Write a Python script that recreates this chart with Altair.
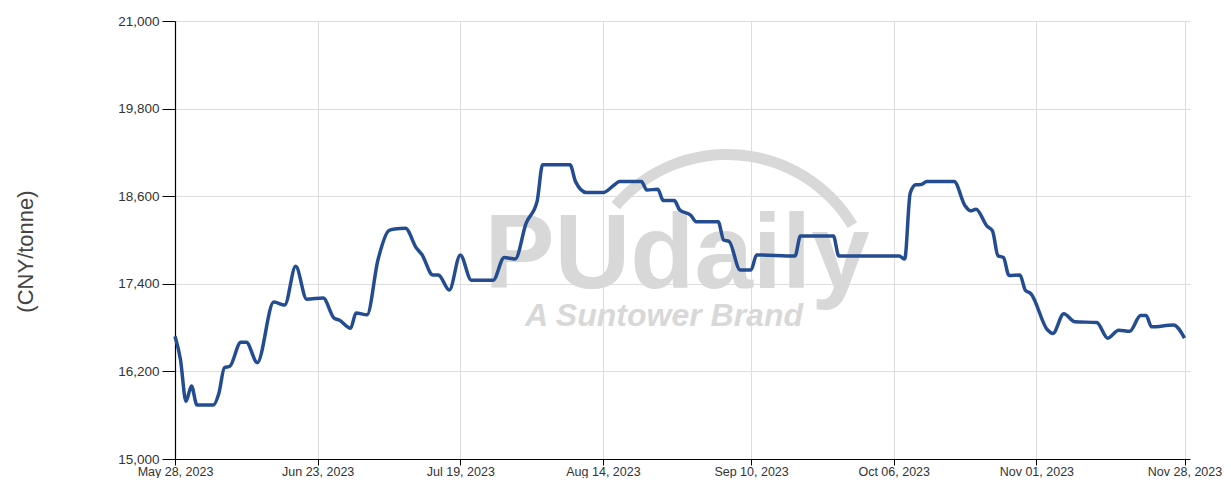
import altair as alt
import pandas as pd

dates = [
    "2023-05-28", "2023-05-29", "2023-05-30", "2023-05-31", "2023-06-01", "2023-06-04",
    "2023-06-05", "2023-06-06", "2023-06-07", "2023-06-09", "2023-06-10", "2023-06-12",
    "2023-06-15", "2023-06-17", "2023-06-19", "2023-06-21", "2023-06-24", "2023-06-26",
    "2023-06-27", "2023-06-29", "2023-06-30", "2023-07-02", "2023-07-04", "2023-07-06",
    "2023-07-07", "2023-07-09", "2023-07-11", "2023-07-12", "2023-07-14", "2023-07-15",
    "2023-07-17", "2023-07-19", "2023-07-21", "2023-07-25", "2023-07-27", "2023-07-29",
    "2023-07-31", "2023-08-02", "2023-08-03", "2023-08-08", "2023-08-09", "2023-08-11",
    "2023-08-14", "2023-08-16", "2023-08-17", "2023-08-21", "2023-08-22", "2023-08-24",
    "2023-08-25", "2023-08-27", "2023-08-28", "2023-08-30", "2023-08-31", "2023-09-04",
    "2023-09-05", "2023-09-06", "2023-09-08", "2023-09-10", "2023-09-11", "2023-09-18",
    "2023-09-19", "2023-09-25", "2023-09-26", "2023-10-07", "2023-10-08", "2023-10-09",
    "2023-10-10", "2023-10-11", "2023-10-12", "2023-10-17", "2023-10-19", "2023-10-20",
    "2023-10-21", "2023-10-23", "2023-10-24", "2023-10-25", "2023-10-26", "2023-10-27",
    "2023-10-29", "2023-10-30", "2023-10-31", "2023-11-03", "2023-11-04", "2023-11-06",
    "2023-11-08", "2023-11-12", "2023-11-14", "2023-11-16", "2023-11-18", "2023-11-20",
    "2023-11-21", "2023-11-22", "2023-11-26", "2023-11-28",
]
prices = [
    16680, 16360, 15790, 16000, 15740, 15740,
    15900, 16250, 16270, 16600, 16600, 16320,
    17150, 17110, 17640, 17190, 17205, 16930,
    16900, 16790, 17000, 16975, 17730, 18130,
    18150, 18160, 17890, 17800, 17520, 17520,
    17315, 17795, 17450, 17450, 17760, 17740,
    18230, 18530, 19030, 19030, 18800, 18650,
    18650, 18750, 18800, 18800, 18685, 18695,
    18540, 18540, 18410, 18340, 18250, 18250,
    18000, 17980, 17590, 17590, 17795, 17780,
    18055, 18055, 17780, 17780, 17740, 18640,
    18756, 18760, 18800, 18800, 18470, 18400,
    18420, 18190, 18125, 17785, 17760, 17515,
    17520, 17310, 17265, 16770, 16720, 16990,
    16880, 16870, 16655, 16765, 16750, 16965,
    16965, 16810, 16835, 16655,
]
x_ticks = ["2023-05-28", "2023-06-23", "2023-07-19", "2023-08-14",
           "2023-09-10", "2023-10-06", "2023-11-01", "2023-11-28"]
y_ticks = [15000, 16200, 17400, 18600, 19800, 21000]

df = pd.DataFrame({"date": [d + "T00:00:00" for d in dates], "price": prices})

def dt(s):
    y, m, d = s.split("-")
    return alt.DateTime(year=int(y), month=int(m), date=int(d))

FONT = "Liberation Sans"
one = pd.DataFrame({"a": [0]})
WM = "#d8d8d8"

arc = alt.Chart(one).mark_arc(color=WM).encode(
    x=alt.value(552), y=alt.value(280),
    radius=alt.value(152), radius2=alt.value(141),
    theta=alt.value(5.42), theta2=alt.value(7.31),
)
wm1 = alt.Chart(one).mark_text(
    text="PUdaily", font=FONT, fontSize=105, fontWeight="bold",
    color=WM, align="center", baseline="alphabetic",
).encode(x=alt.value(502), y=alt.value(267))
wm2 = alt.Chart(one).mark_text(
    text="A Suntower Brand", font=FONT, fontSize=32, fontWeight="bold",
    fontStyle="italic", color=WM, align="center", baseline="alphabetic",
).encode(x=alt.value(489), y=alt.value(305))

line = alt.Chart(df).mark_line(
    color="#244c91", strokeWidth=3.5, interpolate="monotone"
).encode(
    x=alt.X("date:T",
            scale=alt.Scale(domain=[dt("2023-05-28"), dt("2023-11-29")]),
            axis=alt.Axis(values=[dt(s) for s in x_ticks], format="%b %d, %Y",
                          title=None, labelFont=FONT, labelFontSize=12.5,
                          labelColor="#333333", labelPadding=0,
                          tickColor="#000000", domainColor="#000000",
                          tickSize=6, labelOverlap=False, labelFlush=False,
                          gridColor="#dddddd")),
    y=alt.Y("price:Q",
            scale=alt.Scale(domain=[15000, 21000], nice=False, zero=False),
            axis=alt.Axis(values=y_ticks, format=",.0f", title="(CNY/tonne)",
                          titleFont=FONT, titleFontSize=22, titleFontWeight="normal",
                          titleColor="#444444", titleX=-150, titleY=230,
                          titleAngle=270, titleAlign="center", titleBaseline="middle",
                          labelFont=FONT, labelFontSize=13.5, labelColor="#333333",
                          labelPadding=3, tickColor="#000000", domainColor="#000000",
                          tickSize=13, gridColor="#dddddd")),
)

chart = alt.layer(arc, wm1, wm2, line).properties(
    width=1015, height=438,
    padding={"left": 167, "top": 13, "right": 33, "bottom": 19},
    autosize=alt.AutoSizeParams(type="none"),
).configure_view(stroke=None).configure_axis(gridWidth=1, domainWidth=1.2)

chart.save("out.html", embed_options={"renderer": "svg", "actions": False})
